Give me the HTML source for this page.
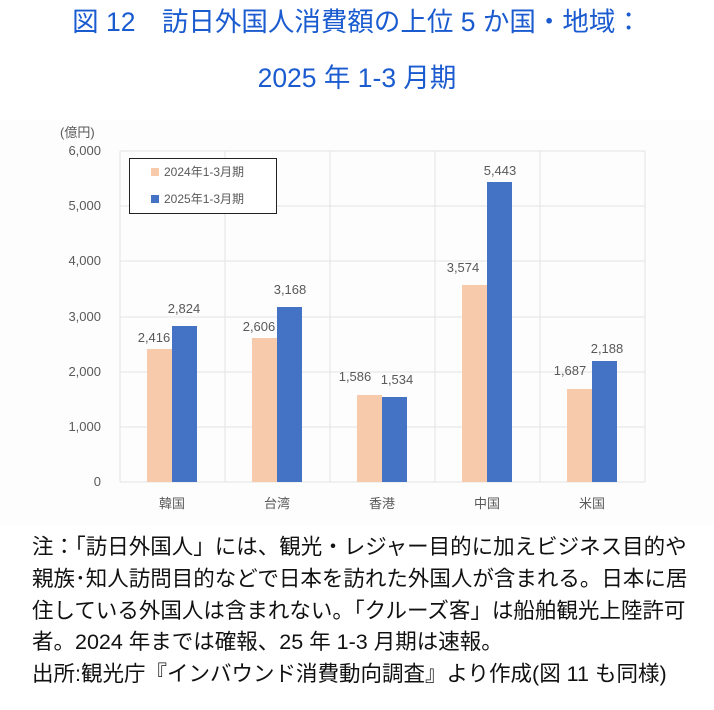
<!DOCTYPE html>
<html><head><meta charset="utf-8"><style>
body{margin:0;width:714px;height:710px;background:#fff;font-family:"Liberation Sans","Noto Sans CJK JP",sans-serif;overflow:hidden;position:relative}
.t{position:absolute;left:0;width:714px;text-align:center;color:#1a5bd0;font-size:26.5px;line-height:30px}
.note{position:absolute;left:32px;top:532px;font-size:21.5px;line-height:31.8px;color:#111;white-space:nowrap}
</style></head><body>
<div class="t" style="top:7px">図 12　訪日外国人消費額の上位 5 か国・地域：</div>
<div class="t" style="top:63px">2025 年 1-3 月期</div>
<svg style="position:absolute;left:0;top:0" width="714" height="530" font-family="Liberation Sans, Noto Sans CJK JP, sans-serif" font-size="12" fill="#595959">
<rect x="0" y="120" width="714" height="405" fill="#fdfdfd"/>
<g stroke="#e3e3e3" stroke-width="1">
<line x1="120" y1="151" x2="645" y2="151"/><line x1="120" y1="206" x2="645" y2="206"/><line x1="120" y1="261" x2="645" y2="261"/><line x1="120" y1="317" x2="645" y2="317"/><line x1="120" y1="372" x2="645" y2="372"/><line x1="120" y1="427" x2="645" y2="427"/><line x1="120" y1="482" x2="645" y2="482"/>
<line x1="120" y1="151" x2="120" y2="482"/><line x1="225" y1="151" x2="225" y2="482"/><line x1="330" y1="151" x2="330" y2="482"/><line x1="435" y1="151" x2="435" y2="482"/><line x1="540" y1="151" x2="540" y2="482"/><line x1="645" y1="151" x2="645" y2="482"/>
</g>
<g text-anchor="end" font-size="13">
<text x="101" y="155">6,000</text><text x="101" y="210">5,000</text><text x="101" y="265">4,000</text><text x="101" y="321">3,000</text><text x="101" y="376">2,000</text><text x="101" y="431">1,000</text><text x="101" y="486">0</text>
</g>
<text x="60" y="137" font-size="13">(億円)</text>
<g fill="#f7caac">
<rect x="147" y="349" width="25" height="133"/><rect x="252" y="338" width="25" height="144"/><rect x="357" y="395" width="25" height="87"/><rect x="462" y="285" width="25" height="197"/><rect x="567" y="389" width="25" height="93"/>
</g>
<g fill="#4472c4">
<rect x="172" y="326" width="25" height="156"/><rect x="277" y="307" width="25" height="175"/><rect x="382" y="397" width="25" height="85"/><rect x="487" y="182" width="25" height="300"/><rect x="592" y="361" width="25" height="121"/>
</g>
<g text-anchor="middle" font-size="13">
<text x="154" y="342">2,416</text><text x="184" y="313">2,824</text>
<text x="259" y="331">2,606</text><text x="290" y="294">3,168</text>
<text x="355" y="381">1,586</text><text x="397" y="384">1,534</text>
<text x="463" y="272">3,574</text><text x="500" y="175">5,443</text>
<text x="570" y="375">1,687</text><text x="607" y="353">2,188</text>
<text x="172" y="508">韓国</text><text x="277" y="508">台湾</text><text x="382" y="508">香港</text><text x="487" y="508">中国</text><text x="592" y="508">米国</text>
</g>
<rect x="129.5" y="158.5" width="147" height="55" fill="#fff" stroke="#222" stroke-width="1"/>
<rect x="151" y="168" width="8" height="8" fill="#f7caac"/><text x="164" y="176">2024年1-3月期</text>
<rect x="151" y="195" width="8" height="8" fill="#4472c4"/><text x="164" y="203">2025年1-3月期</text>
</svg>
<div class="note">注：「訪日外国人」には、観光・レジャー目的に加えビジネス目的や<br>親族･知人訪問目的などで日本を訪れた外国人が含まれる。日本に居<br>住している外国人は含まれない。「クルーズ客」は船舶観光上陸許可<br>者。2024 年までは確報、25 年 1-3 月期は速報。<br>出所:観光庁『インバウンド消費動向調査』より作成(図 11 も同様)</div>
</body></html>
